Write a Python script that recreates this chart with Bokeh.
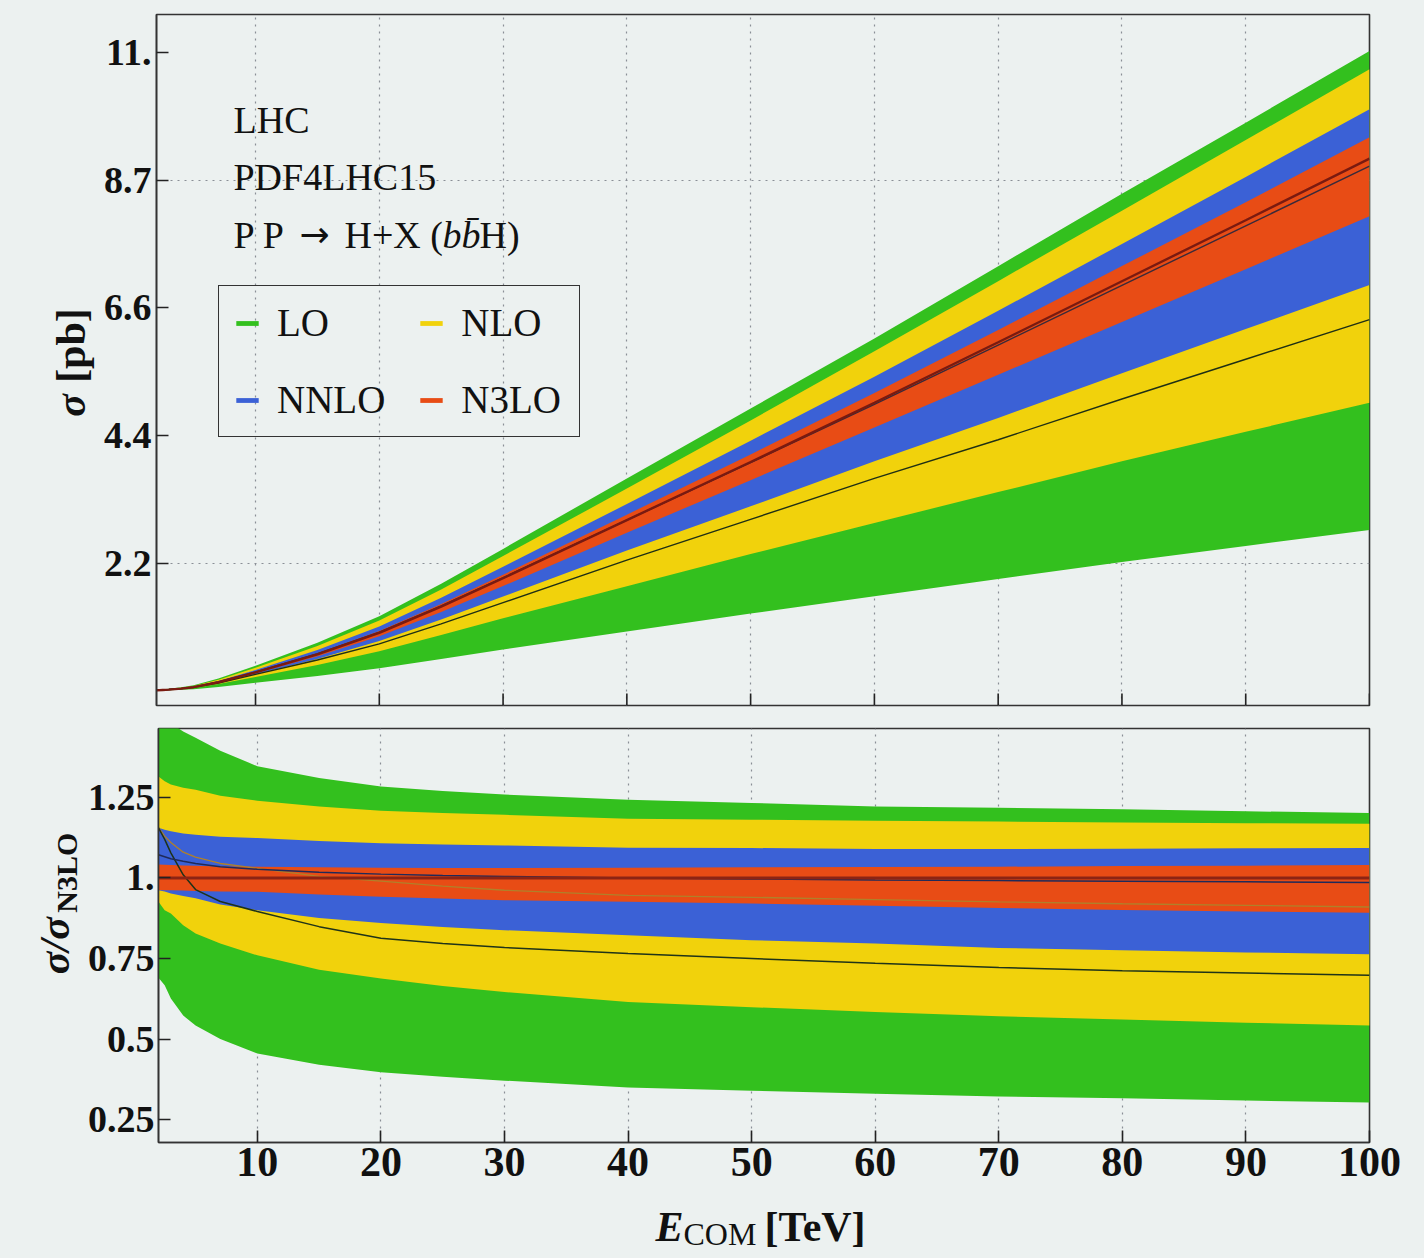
from bokeh.plotting import figure
from bokeh.models import FixedTicker, Label, Legend, LegendItem, Range1d
from bokeh.layouts import column, row
from bokeh.embed import file_html
from bokeh.resources import INLINE
import math

# ---------------- data ----------------
E = [2, 2.5, 3, 4, 5, 7, 10, 15, 20, 25, 30, 40, 50, 60, 70, 80, 90, 100]

# top panel: sigma [pb]
lo_hi   = [0.033, 0.041, 0.049, 0.073, 0.108, 0.223, 0.445, 0.838, 1.297, 1.854, 2.455, 3.667, 4.870, 6.073, 7.320, 8.564, 9.789, 11.02]
lo_lo   = [0.014, 0.018, 0.021, 0.029, 0.041, 0.080, 0.150, 0.269, 0.401, 0.559, 0.723, 1.032, 1.343, 1.640, 1.935, 2.231, 2.506, 2.779]
nlo_hi  = [0.028, 0.035, 0.043, 0.064, 0.096, 0.201, 0.409, 0.782, 1.221, 1.755, 2.332, 3.493, 4.665, 5.855, 7.062, 8.274, 9.489, 10.71]
nlo_lo  = [0.019, 0.024, 0.029, 0.043, 0.062, 0.128, 0.251, 0.458, 0.695, 0.971, 1.260, 1.814, 2.366, 2.902, 3.432, 3.961, 4.469, 4.970]
nnlo_hi = [0.024, 0.031, 0.038, 0.057, 0.085, 0.180, 0.371, 0.714, 1.119, 1.612, 2.147, 3.227, 4.317, 5.417, 6.551, 7.702, 8.856, 10.02]
nnlo_lo = [0.020, 0.026, 0.031, 0.047, 0.070, 0.147, 0.297, 0.561, 0.869, 1.238, 1.634, 2.425, 3.188, 3.961, 4.706, 5.479, 6.237, 6.997]
n3lo_hi = [0.022, 0.028, 0.034, 0.052, 0.078, 0.166, 0.342, 0.661, 1.042, 1.505, 2.010, 3.044, 4.080, 5.139, 6.220, 7.321, 8.418, 9.537]
n3lo_lo = [0.020, 0.026, 0.032, 0.048, 0.072, 0.153, 0.316, 0.607, 0.951, 1.367, 1.815, 2.732, 3.638, 4.543, 5.451, 6.361, 7.267, 8.180]
n3lo_c  = [0.021, 0.027, 0.033, 0.050, 0.075, 0.160, 0.330, 0.640, 1.010, 1.460, 1.950, 2.950, 3.950, 4.970, 6.010, 7.060, 8.110, 9.170]
nnlo_c  = [0.023, 0.029, 0.035, 0.053, 0.078, 0.166, 0.339, 0.652, 1.022, 1.472, 1.960, 2.950, 3.938, 4.940, 5.962, 6.989, 8.013, 9.042]
lo_c    = [0.024, 0.030, 0.036, 0.050, 0.072, 0.148, 0.296, 0.543, 0.821, 1.164, 1.529, 2.260, 2.963, 3.668, 4.333, 5.034, 5.718, 6.401]

# bottom panel: sigma / sigma_N3LO
r_lo_hi   = [1.56, 1.50, 1.48, 1.455, 1.435, 1.395, 1.347, 1.31, 1.284, 1.270, 1.259, 1.243, 1.233, 1.222, 1.218, 1.213, 1.207, 1.202]
r_lo_lo   = [0.69, 0.667, 0.626, 0.573, 0.542, 0.50, 0.455, 0.42, 0.397, 0.383, 0.371, 0.350, 0.340, 0.330, 0.322, 0.316, 0.309, 0.303]
r_nlo_hi  = [1.315, 1.30, 1.29, 1.28, 1.274, 1.255, 1.240, 1.222, 1.209, 1.202, 1.196, 1.184, 1.181, 1.178, 1.175, 1.172, 1.170, 1.168]
r_nlo_lo  = [0.926, 0.90, 0.89, 0.853, 0.828, 0.797, 0.760, 0.715, 0.688, 0.665, 0.646, 0.615, 0.599, 0.584, 0.571, 0.561, 0.551, 0.542]
r_nnlo_hi = [1.156, 1.15, 1.145, 1.138, 1.134, 1.128, 1.124, 1.115, 1.108, 1.104, 1.101, 1.094, 1.093, 1.090, 1.090, 1.091, 1.092, 1.093]
r_nnlo_lo = [0.962, 0.958, 0.952, 0.944, 0.937, 0.918, 0.900, 0.876, 0.860, 0.848, 0.838, 0.822, 0.807, 0.797, 0.783, 0.776, 0.769, 0.763]
r_n3lo_hi = [1.042, 1.041, 1.040, 1.039, 1.038, 1.036, 1.035, 1.033, 1.032, 1.031, 1.031, 1.032, 1.033, 1.034, 1.035, 1.037, 1.038, 1.040]
r_n3lo_lo = [0.963, 0.962, 0.962, 0.961, 0.960, 0.958, 0.957, 0.949, 0.942, 0.936, 0.931, 0.926, 0.921, 0.914, 0.907, 0.901, 0.896, 0.892]
r_n3lo_c  = [1.0, 1.0, 1.0, 1.0, 1.0, 1.0, 1.0, 1.0, 1.0, 1.0, 1.0, 1.0, 1.0, 1.0, 1.0, 1.0, 1.0, 1.0]
r_nnlo_c  = [1.072, 1.066, 1.06, 1.052, 1.045, 1.035, 1.027, 1.018, 1.012, 1.008, 1.005, 1.0, 0.997, 0.994, 0.992, 0.99, 0.988, 0.986]
r_lo_c    = [1.156, 1.12, 1.078, 1.01, 0.964, 0.927, 0.896, 0.849, 0.813, 0.797, 0.784, 0.766, 0.75, 0.735, 0.722, 0.712, 0.705, 0.698]
r_nlo_c   = [1.156, 1.13, 1.11, 1.08, 1.065, 1.045, 1.03, 1.005, 0.99, 0.975, 0.962, 0.946, 0.94, 0.933, 0.926, 0.92, 0.915, 0.91]

x_ticks = [10, 20, 30, 40, 50, 60, 70, 80, 90, 100]
top_ticks = [2.2, 4.4, 6.6, 8.8, 11.0]
top_tick_labels = ["2.2", "4.4", "6.6", "8.7", "11."]
bot_ticks = [0.25, 0.5, 0.75, 1.0, 1.25]
bot_tick_labels = ["0.25", "0.5", "0.75", "1.", "1.25"]
orders = ["LO", "NLO", "NNLO", "N3LO"]

# ---------------- style ----------------
C_LO, C_NLO, C_NNLO, C_N3LO = "#33c01e", "#f1d20c", "#3b61d6", "#e84c15"
BG = "#ecf1f0"
SERIF = "Liberation Serif"
INK = "#111111"
FRAME = "#333333"
TXT_PX = "38px"

XR = (2, 100)
TOP_YR = (-0.24, 11.65)
BOT_YR = (0.179, 1.464)


def style_frame(p):
    p.background_fill_color = BG
    p.border_fill_color = BG
    p.outline_line_color = FRAME
    p.outline_line_width = 1.6
    p.outline_line_alpha = 1.0
    p.toolbar.logo = None


def style_axis(ax, size):
    ax.axis_line_color = FRAME
    ax.axis_line_width = 1.6
    ax.major_tick_in = 12
    ax.major_tick_out = 0
    ax.major_tick_line_color = "#222222"
    ax.major_tick_line_width = 1.6
    ax.minor_tick_line_color = None
    ax.major_label_text_font = SERIF
    ax.major_label_text_font_style = "bold"
    ax.major_label_text_font_size = size
    ax.major_label_text_color = INK


def strip(w, h, xr, yr):
    s = figure(width=w, height=h, x_range=Range1d(*xr), y_range=Range1d(*yr),
               x_axis_type=None, y_axis_type=None, output_backend="svg", toolbar_location=None,
               min_border_left=0, min_border_right=0, min_border_top=0, min_border_bottom=0)
    s.background_fill_color = BG
    s.border_fill_color = BG
    s.outline_line_color = None
    s.toolbar.logo = None
    return s


def dotted_xgrid(p):
    p.xgrid.ticker = FixedTicker(ticks=x_ticks[:-1])
    p.xgrid.grid_line_color = "#8a8f96"
    p.xgrid.grid_line_dash = "2 5"
    p.xgrid.grid_line_width = 1.2


def text(p, x, y, s, size=TXT_PX, style="normal", font=SERIF, angle=0.0, align="left", x_offset=0):
    p.add_layout(Label(x=x, y=y, x_offset=x_offset, text=s, text_font=font, text_font_style=style,
                       text_font_size=size, text_color=INK, text_align=align,
                       text_baseline="middle", angle=angle))


# ---------------- top panel ----------------
LT_W = 100
top = figure(width=1424 - LT_W, height=716, x_range=Range1d(*XR), y_range=Range1d(*TOP_YR),
             output_backend="svg", toolbar_location=None,
             min_border_left=155 - LT_W, min_border_right=55, min_border_top=14, min_border_bottom=11)
style_frame(top)
top.xaxis.visible = False
style_axis(top.yaxis[0], "38px")
top.yaxis[0].ticker = FixedTicker(ticks=top_ticks)
top.yaxis[0].major_label_overrides = dict(zip(top_ticks, top_tick_labels))
top.yaxis[0].major_label_standoff = 5
dotted_xgrid(top)
top.ygrid.ticker = FixedTicker(ticks=[2.2, 8.8])
top.ygrid.grid_line_color = "#8a8f96"
top.ygrid.grid_line_dash = "2 5"
top.ygrid.grid_line_width = 1.2

g_lo = top.varea(x=E, y1=lo_lo, y2=lo_hi, fill_color=C_LO)
g_nlo = top.varea(x=E, y1=nlo_lo, y2=nlo_hi, fill_color=C_NLO)
g_nnlo = top.varea(x=E, y1=nnlo_lo, y2=nnlo_hi, fill_color=C_NNLO)
g_n3lo = top.varea(x=E, y1=n3lo_lo, y2=n3lo_hi, fill_color=C_N3LO)
top.line(E, lo_c, line_color="#1f2f14", line_width=1.4)
top.line(E, nnlo_c, line_color="#3a2a3a", line_width=1.4)
top.line(E, n3lo_c, line_color="#7a1a10", line_width=2.4)

# inward x ticks on the lower edge of the upper panel
tick_len = 12 * (TOP_YR[1] - TOP_YR[0]) / 691.0
top.segment(x0=x_ticks, x1=x_ticks, y0=[TOP_YR[0]] * len(x_ticks),
            y1=[TOP_YR[0] + tick_len] * len(x_ticks), line_color="#222222", line_width=1.6)

# legend: LO / NLO on the first row, NNLO / N3LO on the second
rend = dict(zip(orders, [g_lo, g_nlo, g_nnlo, g_n3lo]))
legend = Legend(items=[LegendItem(label=o, renderers=[rend[o]]) for o in ["LO", "NNLO", "NLO", "N3LO"]],
                ncols=2, location=(62, 268))
legend.border_line_color = FRAME
legend.border_line_width = 1.5
legend.border_line_alpha = 1.0
legend.background_fill_alpha = 0
legend.label_text_font = SERIF
legend.label_text_font_size = "39px"
legend.label_text_color = INK
legend.glyph_width = 28
legend.glyph_height = 6
legend.label_standoff = 16
legend.label_width = 104
legend.spacing = 32
legend.padding = 14
legend.margin = 0
top.add_layout(legend)

# annotation text (vertically centred on the glyphs)
TX = 8.22
text(top, TX, 9.84, "LHC")
text(top, TX, 8.86, "PDF4LHC15")
Y3 = 7.86
text(top, TX, Y3, "P P")
text(top, TX, Y3, "\u2192", size="36px", font="DejaVu Sans", x_offset=66)
text(top, TX, Y3, "H+X (", x_offset=111)
text(top, TX, Y3, "bb\u0304", style="italic", x_offset=209)
text(top, TX, Y3, "H)", x_offset=246)

# left strip for the upper y label (pixel coordinates, y downwards)
lt = strip(LT_W, 716, (0, LT_W), (716, 0))
text(lt, 70, 405, "\u03c3", size="42px", style="bold italic", angle=math.pi / 2, align="center")
text(lt, 70, 343, "[pb]", size="42px", style="bold", angle=math.pi / 2, align="center")

# ---------------- bottom panel ----------------
LB_W = 84
BOT_H = 488
bot = figure(width=1424 - LB_W, height=BOT_H, x_range=Range1d(*XR), y_range=Range1d(*BOT_YR),
             output_backend="svg", toolbar_location=None,
             min_border_left=155 - LB_W, min_border_right=55, min_border_top=12,
             min_border_bottom=BOT_H - 12 - 414)
style_frame(bot)
style_axis(bot.xaxis[0], "42px")
style_axis(bot.yaxis[0], "38px")
bot.xaxis[0].ticker = FixedTicker(ticks=x_ticks)
bot.xaxis[0].major_label_standoff = 5
bot.yaxis[0].ticker = FixedTicker(ticks=bot_ticks)
bot.yaxis[0].major_label_overrides = dict(zip(bot_ticks, bot_tick_labels))
bot.yaxis[0].major_label_standoff = 4
dotted_xgrid(bot)
bot.ygrid.grid_line_color = None

bot.varea(x=E, y1=r_lo_lo, y2=r_lo_hi, fill_color=C_LO)
bot.varea(x=E, y1=r_nlo_lo, y2=r_nlo_hi, fill_color=C_NLO)
bot.varea(x=E, y1=r_nnlo_lo, y2=r_nnlo_hi, fill_color=C_NNLO)
bot.varea(x=E, y1=r_n3lo_lo, y2=r_n3lo_hi, fill_color=C_N3LO)
bot.line(E, r_nlo_c, line_color="#b0802a", line_width=1.3)
bot.line(E, r_lo_c, line_color="#1f3318", line_width=1.5)
bot.line(E, r_nnlo_c, line_color="#1f2a5a", line_width=1.5)
bot.line(E, r_n3lo_c, line_color="#8c2414", line_width=3)

# left strip for the lower y label
Y0 = 716
lb = strip(LB_W, BOT_H, (0, LB_W), (Y0 + BOT_H, Y0))
text(lb, 54, 972, "\u03c3/\u03c3", size="42px", style="bold italic", angle=math.pi / 2, align="center")
text(lb, 66, 886, "N3LO", size="30px", style="bold", angle=math.pi / 2, align="center")

# bottom strip for the x label
XY0 = Y0 + BOT_H
xl = strip(1424, 1258 - XY0, (0, 1424), (1258, XY0))
text(xl, 655, 1226, "E", size="42px", style="bold italic")
text(xl, 683, 1233, "COM", size="32px")
text(xl, 764, 1226, "[TeV]", size="42px", style="bold")

layout = column(row(lt, top, spacing=0), row(lb, bot, spacing=0), xl, spacing=0,
                styles={"background-color": BG})
open("out.html", "w").write(file_html(layout, INLINE))
